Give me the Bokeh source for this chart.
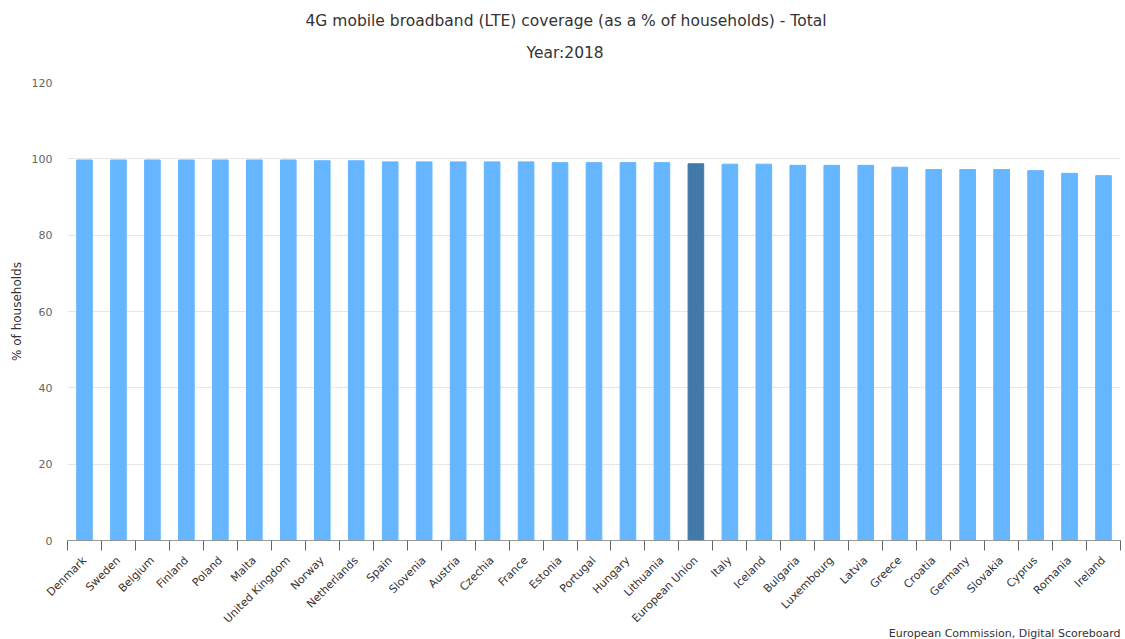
import math
from bokeh.plotting import figure
from bokeh.models import Range1d, FixedTicker, Title, ColumnDataSource
from bokeh.embed import file_html
from bokeh.resources import INLINE

countries = ["Denmark", "Sweden", "Belgium", "Finland", "Poland", "Malta", "United Kingdom",
             "Norway", "Netherlands", "Spain", "Slovenia", "Austria", "Czechia", "France",
             "Estonia", "Portugal", "Hungary", "Lithuania", "European Union", "Italy", "Iceland",
             "Bulgaria", "Luxembourg", "Latvia", "Greece", "Croatia", "Germany", "Slovakia",
             "Cyprus", "Romania", "Ireland"]
values = [99.7, 99.7, 99.7, 99.7, 99.7, 99.7, 99.7, 99.5, 99.5, 99.2, 99.2, 99.2, 99.2, 99.2,
          99.0, 99.0, 99.0, 99.0, 98.7, 98.6, 98.6, 98.3, 98.3, 98.3, 97.8, 97.2, 97.2, 97.2,
          96.9, 96.2, 95.6]
y_ticks = [0, 20, 40, 60, 80, 100, 120]

title_text = "4G mobile broadband (LTE) coverage (as a % of households) - Total"
subtitle_text = "Year:2018"
y_label = "% of households"
credits = "European Commission, Digital Scoreboard"

positions = list(range(len(countries)))
colors = ["#4279a9" if c == "European Union" else "#65b6fe" for c in countries]
src = ColumnDataSource(dict(x=positions, top=values, color=colors, name=countries))

p = figure(width=1125, height=639, x_range=Range1d(-0.5, len(countries) - 0.5),
           y_range=Range1d(0, 120), output_backend="svg", toolbar_location=None,
           min_border_left=67, min_border_right=5, min_border_top=82, min_border_bottom=99)

title_style = dict(text_font="DejaVu Sans", text_font_size="15.5px",
                   text_font_style="normal", text_color="#333333")

# p.title is outermost; the added subtitle sits nearest the frame
p.title.text = title_text
p.title.align = "left"
p.title.offset = 238
p.title.standoff = -18
for k, v in title_style.items():
    setattr(p.title, k, v)
sub = Title(text=subtitle_text, align="left", offset=459, standoff=42, **title_style)
p.add_layout(sub, "above")

p.vbar(x="x", top="top", width=0.46, color="color", source=src)

p.outline_line_color = None
p.xgrid.grid_line_color = None
p.ygrid.grid_line_color = "#e6e6e6"
p.yaxis.ticker = FixedTicker(ticks=y_ticks)
p.yaxis.axis_line_color = None
p.yaxis.major_tick_line_color = None
p.yaxis.minor_tick_line_color = None
p.yaxis.major_label_text_font = "DejaVu Sans"
p.yaxis.major_label_text_font_size = "11px"
p.yaxis.major_label_text_color = "#666666"
p.yaxis.major_label_standoff = 9
p.yaxis.axis_label = y_label
p.yaxis.axis_label_text_font = "DejaVu Sans"
p.yaxis.axis_label_text_font_size = "12px"
p.yaxis.axis_label_text_font_style = "normal"
p.yaxis.axis_label_text_color = "#333333"
p.yaxis.axis_label_standoff = 5

p.xaxis.ticker = FixedTicker(ticks=positions, minor_ticks=[i - 0.5 for i in range(len(countries) + 1)])
p.xaxis.major_label_overrides = {i: c for i, c in enumerate(countries)}
p.xaxis.major_label_orientation = math.pi / 4
p.xaxis.major_label_text_font = "DejaVu Sans"
p.xaxis.major_label_text_font_size = "11px"
p.xaxis.major_label_text_color = "#333333"
p.xaxis.major_label_standoff = 8
p.xaxis.major_tick_in = 0
p.xaxis.major_tick_out = 0
p.xaxis.minor_tick_in = 0
p.xaxis.minor_tick_out = 10
p.xaxis.minor_tick_line_color = "#666666"
p.xaxis.axis_line_color = "#999999"

cred = Title(text=credits, align="right", vertical_align="top", text_font="DejaVu Sans",
             text_font_size="11px", text_font_style="normal", text_color="#333333",
             standoff=-12.8)
p.add_layout(cred, "below")

open("out.html", "w").write(file_html(p, INLINE))
